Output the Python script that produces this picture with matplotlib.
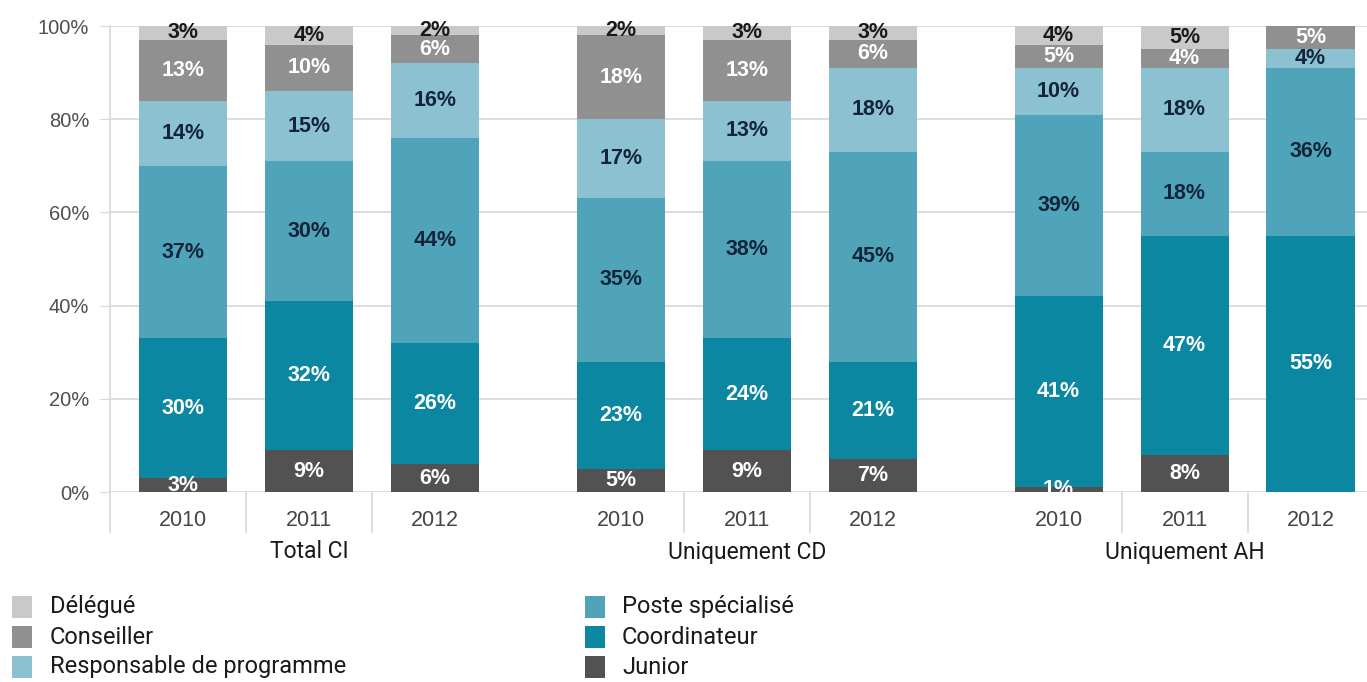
import matplotlib
matplotlib.use("Agg")
import matplotlib.pyplot as plt
from matplotlib.patches import Rectangle
import numpy as np

# groupes et années
groups = ["Total CI", "Uniquement CD", "Uniquement AH"]
years = ["2010", "2011", "2012"]

# parts (%) par statut, dans l'ordre des barres (3 groupes x 3 années)
junior = [3, 9, 6, 5, 9, 7, 1, 8, 0]
coordinateur = [30, 32, 26, 23, 24, 21, 41, 47, 55]
poste = [37, 30, 44, 35, 38, 45, 39, 18, 36]
responsable = [14, 15, 16, 17, 13, 18, 10, 18, 4]
conseiller = [13, 10, 6, 18, 13, 6, 5, 4, 5]
delegue = [3, 4, 2, 2, 3, 3, 4, 5, 0]

# empilement du bas vers le haut
series = [
    ("Junior", junior, "#525252", "white"),
    ("Coordinateur", coordinateur, "#0b87a1", "white"),
    ("Poste spécialisé", poste, "#4fa4b9", "#13253a"),
    ("Responsable de programme", responsable, "#8bc1d1", "#13253a"),
    ("Conseiller", conseiller, "#909090", "white"),
    ("Délégué", delegue, "#c9c9c9", "#1a1a1a"),
]
legend_order = ["Délégué", "Conseiller", "Responsable de programme",
                "Poste spécialisé", "Coordinateur", "Junior"]

W, H = 1367, 682
fig = plt.figure(figsize=(W / 100, H / 100), dpi=100)
ax = fig.add_axes([110 / W, 1 - 492 / H, (W - 110) / W, 466 / H])

gap = 1.476
x = np.array([g * (2 + gap) + i for g in range(len(groups)) for i in range(len(years))])

bottom = np.zeros(len(x))
for k, (name, vals, col, tcol) in enumerate(series):
    vals = np.array(vals, dtype=float)
    ax.bar(x, vals, 0.70, bottom=bottom, color=col, linewidth=0, zorder=2)
    for xi, b, v in zip(x, bottom, vals):
        if v > 0:
            # seules les étiquettes du bas sont coupées par l'axe
            ax.text(xi, b + v / 2, f"{int(v)}%", ha="center", va="center",
                    color=tcol, fontsize=15.5, fontweight="bold",
                    family="Liberation Sans", zorder=3, clip_on=(k == 0))
    bottom += vals

ax.set_xlim(-0.58, 9.40)
ax.set_ylim(0, 100)
ax.set_yticks(range(0, 101, 20))
ax.set_yticklabels([f"{v}%" for v in range(0, 101, 20)])
ax.grid(axis="y", color="#d8d8d8", linewidth=1.2, zorder=0)
ax.tick_params(axis="y", length=7, color="#d8d8d8", pad=8,
               labelsize=14.5, labelcolor="#505050")
for t in ax.get_yticklabels():
    t.set_family("Liberation Sans")

ax.set_xticks(x)
ax.set_xticklabels(years * len(groups))
ax.tick_params(axis="x", length=0, pad=13, labelsize=15.5, labelcolor="#454545")
for t in ax.get_xticklabels():
    t.set_family("Liberation Sans")

for s in ["top", "right", "bottom"]:
    ax.spines[s].set_visible(False)
ax.spines["left"].set_color("#d8d8d8")
ax.spines["left"].set_linewidth(1.2)

# séparateurs sous l'axe
trans = ax.get_xaxis_transform()
sep_depth = -40 / 466
ax.plot([-0.58, -0.58], [0, sep_depth], color="#d8d8d8", lw=1.2,
        transform=trans, clip_on=False)
for g in range(len(groups)):
    for i in range(len(years) - 1):
        xs = g * (2 + gap) + i + 0.5
        ax.plot([xs, xs], [0, sep_depth], color="#d8d8d8", lw=1.2,
                transform=trans, clip_on=False)

# noms des groupes
for g, name in enumerate(groups):
    ax.text(g * (2 + gap) + 1, -60 / 466, name, transform=trans,
            ha="center", va="center", fontsize=16.5, family="Roboto",
            color="#1a1a1a")

# légende
colors = {name: col for name, _, col, _ in series}
rows = [607, 637, 667]
cols = [(12, 50), (585, 622)]
for k, name in enumerate(legend_order):
    cx, tx = cols[k // 3]
    cy = rows[k % 3]
    fig.patches.append(Rectangle((cx / W, 1 - (cy + 11) / H), 20 / W, 22 / H,
                                 transform=fig.transFigure,
                                 color=colors[name], linewidth=0))
    fig.text(tx / W, 1 - cy / H, name, ha="left", va="center",
             fontsize=17, family="Roboto", color="#1a1a1a")

fig.savefig("out.png", dpi=100)
